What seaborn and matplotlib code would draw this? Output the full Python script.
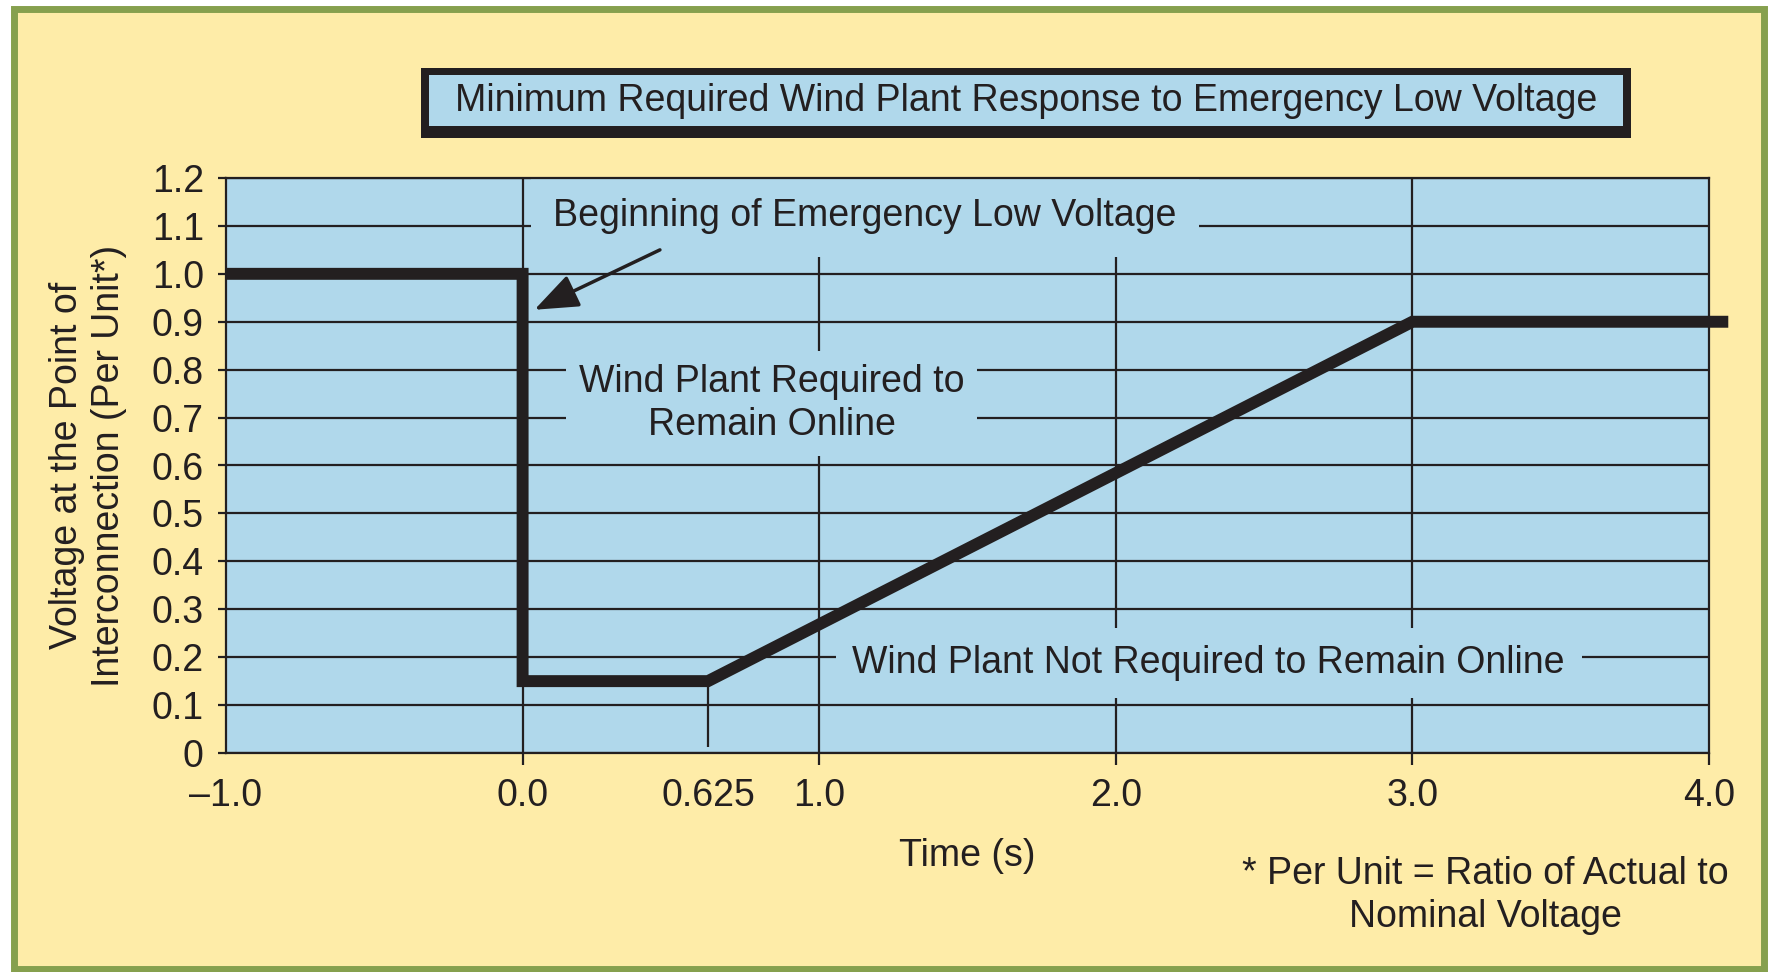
import matplotlib
matplotlib.use("Agg")
import matplotlib.pyplot as plt
import seaborn as sns
import numpy as np
from matplotlib.patches import Rectangle

# curve breakpoints (per unit voltage vs time)
time_s = [-1.0, 0.0, 0.0, 0.625, 3.0, 4.065]
voltage_pu = [1.0, 1.0, 0.15, 0.15, 0.9, 0.9]

x_ticks = [-1.0, 0.0, 0.625, 1.0, 2.0, 3.0, 4.0]
x_labels = ["\u20131.0", "0.0", "0.625", "1.0", "2.0", "3.0", "4.0"]
y_ticks = [0.0, 0.1, 0.2, 0.3, 0.4, 0.5, 0.6, 0.7, 0.8, 0.9, 1.0, 1.1, 1.2]
y_labels = ["0", "0.1", "0.2", "0.3", "0.4", "0.5", "0.6", "0.7", "0.8", "0.9", "1.0", "1.1", "1.2"]
x_grid = [0.0, 1.0, 2.0, 3.0]

YELLOW = "#FEECA8"
BLUE = "#B0D8EB"
GREEN = "#86A04E"
DARK = "#231F20"
FS = 27

sns.set_theme(style="white")
plt.rcParams["font.family"] = ["Liberation Sans", "DejaVu Sans"]

W, H = 1768, 972
def fx(px): return px / W
def fy(py): return 1 - py / H

fig = plt.figure(figsize=(17.68, 9.72), dpi=100, facecolor="white")
# green framed yellow panel
fig.patches.append(Rectangle((fx(14), fy(969)), fx(1764) - fx(14), fy(9) - fy(969),
                             transform=fig.transFigure, fc=YELLOW, ec=GREEN, lw=5, zorder=-10))
# title box
fig.patches.append(Rectangle((fx(421), fy(138)), fx(1631) - fx(421), fy(68) - fy(138),
                             transform=fig.transFigure, fc=DARK, ec="none", zorder=1))
fig.patches.append(Rectangle((fx(429), fy(126)), fx(1623) - fx(429), fy(75) - fy(126),
                             transform=fig.transFigure, fc=BLUE, ec="none", zorder=2))
fig.text(fx(1026), fy(101), "Minimum Required Wind Plant Response to Emergency Low Voltage",
         ha="center", va="center", fontsize=FS, color=DARK, zorder=3)

ax = fig.add_axes([fx(226), fy(753), fx(1709) - fx(226), fy(178) - fy(753)])
ax.set_facecolor(BLUE)

for y in y_ticks:
    ax.axhline(y, color=DARK, lw=1.6, zorder=1)
for x in x_grid:
    ax.axvline(x, color=DARK, lw=1.6, zorder=1)
ax.vlines(time_s[3], 0.012, voltage_pu[3], color=DARK, lw=1.6, zorder=1)

ax.text(1.154, 1.12, "Beginning of Emergency Low Voltage", ha="center", va="center",
        fontsize=FS, color=DARK, zorder=2, clip_on=True,
        bbox=dict(boxstyle="square,pad=0.6", fc=BLUE, ec="none"))
ax.text(0.839, 0.729, "Wind Plant Required to\nRemain Online", ha="center", va="center",
        fontsize=FS, color=DARK, linespacing=1.25, zorder=2, clip_on=True,
        bbox=dict(boxstyle="square,pad=0.35", fc=BLUE, ec="none"))
ax.text(2.313, 0.188, "Wind Plant Not Required to Remain Online", ha="center", va="center",
        fontsize=FS, color=DARK, zorder=2, clip_on=True,
        bbox=dict(boxstyle="square,pad=0.45", fc=BLUE, ec="none"))

ax.annotate("", xy=(0.04, 0.925), xytext=(0.463, 1.05),
            arrowprops=dict(arrowstyle="-|>,head_length=0.9,head_width=0.35", color=DARK,
                            lw=2.5, mutation_scale=30, shrinkA=0, shrinkB=0), zorder=3)

sns.lineplot(x=time_s, y=voltage_pu, sort=False, estimator=None, color=DARK,
             lw=8.6, ax=ax, zorder=4)
line = ax.lines[-1]
line.set_clip_on(False)
line.set_solid_joinstyle("miter")
line.set_solid_capstyle("butt")

ax.set_xlim(-1, 4)
ax.set_ylim(0, 1.2)
ax.set_xticks(x_ticks)
ax.set_xticklabels(x_labels)
ax.set_yticks(y_ticks)
ax.set_yticklabels(y_labels)
ax.tick_params(axis="y", direction="out", length=6, width=1.6, color=DARK,
               labelsize=FS, labelcolor=DARK, pad=10, left=True)
ax.tick_params(axis="x", direction="out", length=8.5, width=1.6, color=DARK,
               labelsize=FS, labelcolor=DARK, pad=9.5, bottom=True)
for i in (0, 2):
    ax.xaxis.get_major_ticks()[i].tick1line.set_visible(False)
for s in ax.spines.values():
    s.set_color(DARK)
    s.set_linewidth(1.6)
    s.set_zorder(2.5)

ax.set_ylabel("Voltage at the Point of\nInterconnection (Per Unit*)", fontsize=FS,
              color=DARK, linespacing=1.2)
ax.yaxis.set_label_coords(-0.067, 0.5)
ax.set_xlabel("Time (s)", fontsize=FS, color=DARK)
ax.xaxis.set_label_coords(0.5, -0.148)

fig.text(fx(1485), fy(895), "* Per Unit = Ratio of Actual to\nNominal Voltage", ha="center",
         va="center", fontsize=FS, color=DARK, linespacing=1.25)

fig.savefig("out.png", dpi=100, facecolor=fig.get_facecolor())
